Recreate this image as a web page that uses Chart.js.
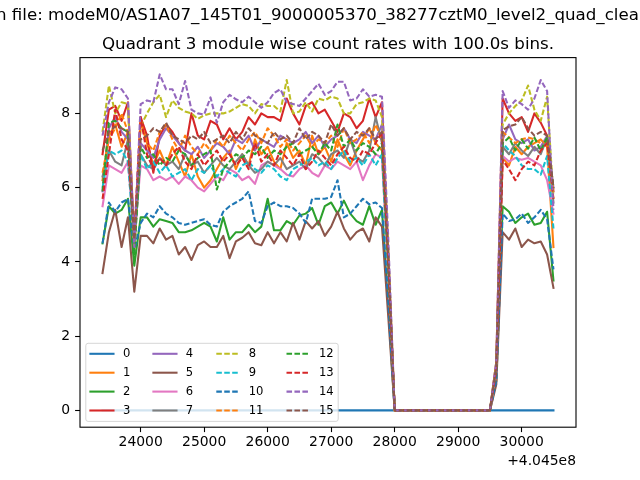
<!DOCTYPE html>
<html><head><meta charset="utf-8">
<script src="https://cdn.jsdelivr.net/npm/chart.js@4/dist/chart.umd.min.js"></script>
<style>html,body{margin:0;padding:0;background:#fff;}canvas{display:block;}</style>
</head><body>
<canvas id="c" width="640" height="480" style="width:640px;height:480px"></canvas>
<script>
const suptitleText = "n file: modeM0/AS1A07_145T01_9000005370_38277cztM0_level2_quad_clean";
const titleText = "Quadrant 3 module wise count rates with 100.0s bins.";
const offsetText = "+4.045e8";
const xTicks = [24000, 25000, 26000, 27000, 28000, 29000, 30000];
const yTicks = [0, 2, 4, 6, 8];
const seriesLabels = ["0","1","2","3","4","5","6","7","8","9","10","11","12","13","14","15"];
// bin times (offset from 4.045e8 s)
const binTimes = [23400,23500,23600,23700,23800,23900,24000,24100,24200,24300,24400,24500,24600,24700,24800,24900,
25000,25100,25200,25300,25400,25500,25600,25700,25800,25900,26000,26100,26200,26300,26400,26500,26600,26700,26800,26900,
27000,27100,27200,27300,27400,27500,27600,27700,27800,27900,28000,28100,28200,28300,28400,28500,28600,28700,28800,28900,
29000,29100,29200,29300,29400,29500,29600,29700,29800,29900,30000,30100,30200,30300,30400,30500];

const m0 = [0,0,0,0,0,0,0,0,0,0,0,0,0,0,0,0,0,0,0,0,0,0,0,0,0,0,0,0,0,0,0,0,0,0,0,0,0,0,0,0,0,0,0,0,0,0,0,0,0,0,0,0,0,0,0,0,0,0,0,0,0,0,0,0,0,0,0,0,0,0,0,0];
const m1 = [6.2,7.4,7.7,7.1,7.5,4.3,
7.8,7.2,6.6,7.0,6.6,7.1,6.7,6.3,6.9,6.3,6.0,6.2,6.5,6.8,7.0,6.5,6.9,6.6,7.3,6.9,7.1,6.7,6.5,7.2,6.8,7.0,6.6,7.4,6.9,7.1,6.7,7.3,6.9,6.6,7.0,7.3,7.6,7.2,7.0,
3.8,0,0,0,0,0,0,0,0,0,0,0,0,0,0,0,0,1.1,
6.8,6.6,7.1,6.9,7.1,7.2,7.3,7.1,4.4];
const m2 = [4.5,5.5,5.3,5.4,5.7,3.9,
5.2,5.2,4.95,5.15,5.1,5.05,4.8,4.8,4.85,4.95,5.05,4.95,4.55,5.2,4.6,4.8,4.8,5.0,4.8,4.95,5.7,4.85,4.85,5.1,5.0,5.25,5.3,5.45,5.0,5.5,5.6,5.3,5.65,5.3,5.1,5.0,5.5,5.0,5.4,
2.8,0,0,0,0,0,0,0,0,0,0,0,0,0,0,0,0,0.8,
5.5,5.35,5.05,5.2,5.3,5.0,5.05,5.35,3.5];
const m3 = [6.9,8.1,8.2,7.8,8.3,4.6,
7.9,7.4,6.4,7.4,7.7,7.5,7.2,7.0,8.0,7.4,7.3,7.8,7.7,7.3,7.6,7.3,7.5,7.9,7.7,8.0,7.9,7.9,7.8,8.4,8.0,7.7,8.2,8.3,8.0,8.1,7.8,7.5,8.0,7.9,7.6,7.8,8.4,7.9,8.3,
4.2,0,0,0,0,0,0,0,0,0,0,0,0,0,0,0,0,1.3,
8.4,8.0,7.8,7.9,7.5,8.0,7.75,7.4,5.9];
const m4 = [5.9,7.6,7.9,7.5,7.3,4.5,
7.2,7.0,6.8,7.3,7.6,7.4,7.2,7.0,6.9,7.1,6.8,7.0,7.2,7.1,6.9,7.3,7.2,7.4,7.0,7.3,7.2,7.1,7.4,7.3,7.2,7.3,7.5,7.2,7.4,7.1,7.3,7.4,7.6,7.3,7.2,7.5,7.4,7.3,7.7,
3.9,0,0,0,0,0,0,0,0,0,0,0,0,0,0,0,0,1.2,
7.3,7.7,7.3,7.2,7.3,7.0,7.1,7.4,6.0];
const m5 = [3.7,4.8,5.4,4.4,5.2,3.2,
4.7,4.7,4.5,4.9,4.6,4.7,4.2,4.4,4.05,4.45,4.55,4.4,4.4,4.7,4.1,4.55,4.65,4.8,4.5,4.45,4.8,4.5,4.8,4.55,5.05,4.6,5.1,4.9,5.1,4.7,4.95,5.35,4.9,4.6,4.8,4.9,4.55,5.2,4.95,
2.5,0,0,0,0,0,0,0,0,0,0,0,0,0,0,0,0,0.7,
4.8,4.6,4.9,4.4,4.6,4.5,4.55,4.2,3.3];
const m6 = [5.5,6.6,6.5,6.4,6.7,4.6,
6.6,6.5,6.2,6.3,6.2,6.3,6.1,6.3,6.2,6.0,5.9,6.1,6.3,6.2,6.5,6.4,6.2,6.3,6.1,6.6,6.7,6.6,6.5,6.35,6.3,6.5,6.6,6.4,6.3,6.6,6.5,6.7,6.6,6.5,6.7,6.2,6.6,6.9,6.8,
3.6,0,0,0,0,0,0,0,0,0,0,0,0,0,0,0,0,1.0,
6.85,6.7,6.8,6.75,6.8,6.7,6.6,6.2,5.3];
const m7 = [6.3,7.0,6.7,6.6,7.3,4.4,
6.9,6.6,6.5,6.8,6.6,6.7,6.5,6.9,6.6,6.7,6.4,6.6,6.8,6.6,6.5,6.7,6.9,6.6,6.4,6.5,6.7,6.6,6.8,6.5,6.6,6.7,6.5,6.9,6.8,6.6,6.9,7.0,6.8,7.3,6.8,6.7,7.0,7.9,7.2,
3.9,0,0,0,0,0,0,0,0,0,0,0,0,0,0,0,0,1.1,
7.1,6.9,7.2,7.0,6.85,7.1,6.9,7.35,5.6];
const m8 = [7.5,8.75,8.0,8.3,8.25,4.3,
7.65,8.0,8.3,8.5,7.9,8.35,8.15,8.05,8.0,7.85,7.95,8.0,8.0,8.0,8.05,8.15,8.25,8.2,8.0,8.25,8.2,8.2,8.05,8.9,8.0,8.05,8.3,8.05,8.4,8.35,8.45,8.4,8.0,8.0,8.25,8.3,8.4,8.35,7.9,
4.3,0,0,0,0,0,0,0,0,0,0,0,0,0,0,0,0,1.3,
7.7,8.0,8.2,8.35,8.75,8.1,7.8,8.45,5.7];
const m9 = [6.0,7.0,6.9,7.0,6.7,4.5,
6.9,6.5,6.7,6.4,6.6,6.3,6.4,6.5,6.2,6.5,6.4,6.6,6.3,6.5,6.4,6.3,6.6,6.7,6.5,6.4,6.6,6.5,6.3,6.2,6.5,6.6,6.7,6.8,6.6,6.7,6.5,6.8,7.0,6.7,6.8,6.6,6.9,6.6,6.9,
3.6,0,0,0,0,0,0,0,0,0,0,0,0,0,0,0,0,1.0,
7.2,7.0,6.85,6.6,6.5,6.5,6.35,6.85,4.9];
const m10 = [4.5,5.6,5.35,5.6,5.7,4.3,
5.05,5.3,5.2,5.5,5.3,5.2,5.05,5.0,5.05,5.1,5.15,5.0,4.95,5.35,5.5,5.6,5.7,5.9,5.1,5.05,5.5,5.6,5.5,5.5,5.45,5.3,5.05,5.7,5.7,5.7,5.75,6.2,5.2,5.3,5.5,5.7,5.55,5.6,5.45,
2.9,0,0,0,0,0,0,0,0,0,0,0,0,0,0,0,0,0.8,
5.3,5.1,5.15,5.3,5.05,5.2,5.4,5.15,3.8];
const m11 = [6.4,7.3,7.6,8.0,7.5,4.4,
7.8,7.2,7.0,7.5,7.7,7.3,7.0,7.4,7.1,6.9,7.2,7.0,7.3,7.1,7.4,7.2,7.0,7.3,7.5,7.2,7.6,7.4,7.1,7.3,7.0,7.2,7.4,7.1,7.3,7.2,7.4,7.1,7.6,7.2,7.3,7.5,7.2,7.7,7.3,
4.0,0,0,0,0,0,0,0,0,0,0,0,0,0,0,0,0,1.2,
7.5,7.35,7.2,7.3,7.35,7.3,7.2,7.25,5.9];
const m12 = [5.9,7.75,7.8,7.6,7.5,4.2,
7.1,6.8,6.9,6.6,6.8,6.7,7.0,6.9,6.6,6.8,6.9,7.0,5.95,6.5,6.7,6.9,6.8,7.0,6.9,7.1,6.8,7.0,6.9,7.1,7.2,6.9,7.0,7.1,6.9,7.2,7.0,7.7,7.1,7.3,7.0,7.2,7.1,6.9,7.2,
3.9,0,0,0,0,0,0,0,0,0,0,0,0,0,0,0,0,1.1,
7.2,7.35,7.0,7.3,7.05,7.35,7.0,7.35,6.0];
const m13 = [5.7,6.9,8.1,7.3,7.0,4.7,
7.9,6.9,6.5,6.8,6.6,6.9,7.1,6.7,6.5,6.9,6.6,6.8,7.0,6.7,6.9,6.6,6.8,6.5,7.2,6.7,6.9,6.6,7.0,6.8,6.6,6.9,6.5,6.7,7.0,6.8,6.6,6.9,7.1,6.8,6.7,7.0,6.9,7.2,7.5,
4.0,0,0,0,0,0,0,0,0,0,0,0,0,0,0,0,0,1.1,
6.75,6.5,6.2,6.5,6.7,6.6,7.0,7.2,5.7];
const m14 = [7.4,8.3,8.7,8.65,8.4,4.4,
8.25,8.35,8.3,9.05,8.65,8.65,8.25,8.87,8.1,8.0,7.97,8.43,7.75,8.3,8.5,8.38,8.3,8.45,8.3,8.15,8.3,8.55,8.65,8.3,8.25,8.2,8.4,8.6,8.8,8.5,8.6,8.85,8.85,8.35,8.4,8.65,8.45,8.5,8.45,
4.6,0,0,0,0,0,0,0,0,0,0,0,0,0,0,0,0,1.3,
8.6,8.15,8.35,8.25,8.1,8.4,8.9,8.6,5.4];
const m15 = [7.0,7.5,7.65,7.6,7.5,4.6,
7.3,7.4,7.6,7.5,7.75,7.4,7.3,7.2,7.4,7.3,7.5,7.2,7.3,7.4,7.2,7.5,7.3,7.6,7.4,7.3,7.2,7.5,7.3,7.4,7.2,7.6,7.3,7.5,7.4,7.2,7.7,7.4,7.6,7.3,7.5,7.4,7.6,7.3,7.5,
4.1,0,0,0,0,0,0,0,0,0,0,0,0,0,0,0,0,1.2,
7.55,7.65,7.7,7.9,7.6,7.4,7.5,7.4,6.0];

const allSeries = [m0,m1,m2,m3,m4,m5,m6,m7,m8,m9,m10,m11,m12,m13,m14,m15];
const palette = ['#1f77b4','#ff7f0e','#2ca02c','#d62728','#9467bd','#8c564b','#e377c2','#7f7f7f','#bcbd22','#17becf'];
const LW = 2.08;
const DASH = [5.55, 2.4];

// axis limits with matplotlib-style 5% margins
const xMinD = Math.min(...binTimes), xMaxD = Math.max(...binTimes);
const xPad = (xMaxD - xMinD) * 0.05;
let yMinD = Infinity, yMaxD = -Infinity;
allSeries.forEach(s => s.forEach(v => { if (v < yMinD) yMinD = v; if (v > yMaxD) yMaxD = v; }));
const yPad = (yMaxD - yMinD) * 0.05;

const datasets = allSeries.map((s, i) => ({
  label: seriesLabels[i],
  data: binTimes.map((t, j) => ({x: t, y: s[j]})),
  borderColor: palette[i % 10],
  backgroundColor: palette[i % 10],
  borderWidth: LW,
  borderDash: i >= 8 ? DASH : [],
  borderCapStyle: i >= 8 ? 'butt' : 'square',
  borderJoinStyle: 'round',
  pointRadius: 0,
  pointHoverRadius: 0,
  fill: false,
  tension: 0,
  order: -i
}));

const FONT = '"DejaVu Sans", "Liberation Sans", sans-serif';

const decor = {
  id: 'decor',
  beforeDraw(chart) {
    const c = chart.ctx;
    c.save(); c.fillStyle = '#fff'; c.fillRect(0, 0, chart.width, chart.height); c.restore();
  },
  afterDraw(chart) {
    const c = chart.ctx, a = chart.chartArea;
    c.save();
    c.strokeStyle = '#000'; c.lineWidth = 1.1; c.setLineDash([]);
    c.strokeRect(a.left, a.top, a.right - a.left, a.bottom - a.top);
    c.fillStyle = '#000';
    c.font = '16.67px ' + FONT; c.textBaseline = 'alphabetic';
    c.textAlign = 'center';
    c.fillText(titleText, (a.left + a.right) / 2, a.top - 8.33);
    c.textAlign = 'left';
    c.fillText(suptitleText, -4, 19.5);
    c.font = '13.9px ' + FONT; c.textAlign = 'right';
    c.fillText(offsetText, a.right, 465.2);

    // legend (matplotlib style, lower left, 4 columns, column-major)
    const bx = 85.8, by = 343.3, bw = 252.4, bh = 78.1, r = 2.3;
    c.beginPath();
    c.moveTo(bx + r, by); c.lineTo(bx + bw - r, by); c.arcTo(bx + bw, by, bx + bw, by + r, r);
    c.lineTo(bx + bw, by + bh - r); c.arcTo(bx + bw, by + bh, bx + bw - r, by + bh, r);
    c.lineTo(bx + r, by + bh); c.arcTo(bx, by + bh, bx, by + bh - r, r);
    c.lineTo(bx, by + r); c.arcTo(bx, by, bx + r, by, r); c.closePath();
    c.fillStyle = 'rgba(255,255,255,0.8)'; c.fill();
    c.strokeStyle = 'rgba(204,204,204,0.8)'; c.lineWidth = 1; c.stroke();
    const rowsY = [353.8, 372.7, 391.6, 410.5];
    const handleX = [90.4, 153.4, 216.3, 286.5];
    const textX = [122.9, 185.8, 248.7, 318.9];
    const HL = 23.1;
    c.font = '11.57px ' + FONT; c.textAlign = 'left'; c.textBaseline = 'middle';
    chart.data.datasets.forEach((ds, k) => {
      const col = Math.floor(k / 4), row = k % 4;
      const y = rowsY[row];
      c.beginPath();
      c.strokeStyle = ds.borderColor; c.lineWidth = LW;
      c.setLineDash(ds.borderDash); c.lineCap = ds.borderCapStyle === 'square' ? 'square' : 'butt';
      c.moveTo(handleX[col], y); c.lineTo(handleX[col] + HL, y); c.stroke();
      c.setLineDash([]);
      c.fillStyle = '#000';
      c.fillText(ds.label, textX[col], y);
    });
    c.restore();
  }
};

new Chart(document.getElementById('c'), {
  type: 'line',
  data: { datasets },
  plugins: [decor],
  options: {
    responsive: false, animation: false, devicePixelRatio: 1,
    layout: { padding: { top: 57.6, right: 64, left: 0, bottom: 0 } },
    plugins: { legend: { display: false }, title: { display: false }, tooltip: { enabled: false } },
    events: [],
    scales: {
      x: {
        type: 'linear', min: xMinD - xPad, max: xMaxD + xPad,
        afterBuildTicks: s => { s.ticks = xTicks.map(v => ({ value: v })); },
        afterFit: s => { s.height = 52.8; },
        grid: { drawOnChartArea: false, drawTicks: true, tickLength: 4.9, tickWidth: 1.1, tickColor: '#000' },
        border: { display: false },
        ticks: { font: { family: FONT, size: 13.9 }, color: '#000', padding: 2.2, maxRotation: 0, autoSkip: false, callback: v => String(v) }
      },
      y: {
        type: 'linear', min: yMinD - yPad, max: yMaxD + yPad,
        afterBuildTicks: s => { s.ticks = yTicks.map(v => ({ value: v })); },
        afterFit: s => { s.width = 80; },
        grid: { drawOnChartArea: false, drawTicks: true, tickLength: 4.9, tickWidth: 1.1, tickColor: '#000' },
        border: { display: false },
        ticks: { font: { family: FONT, size: 13.9 }, color: '#000', padding: 4.9, autoSkip: false, callback: v => String(v) }
      }
    }
  }
});
</script>
</body></html>
